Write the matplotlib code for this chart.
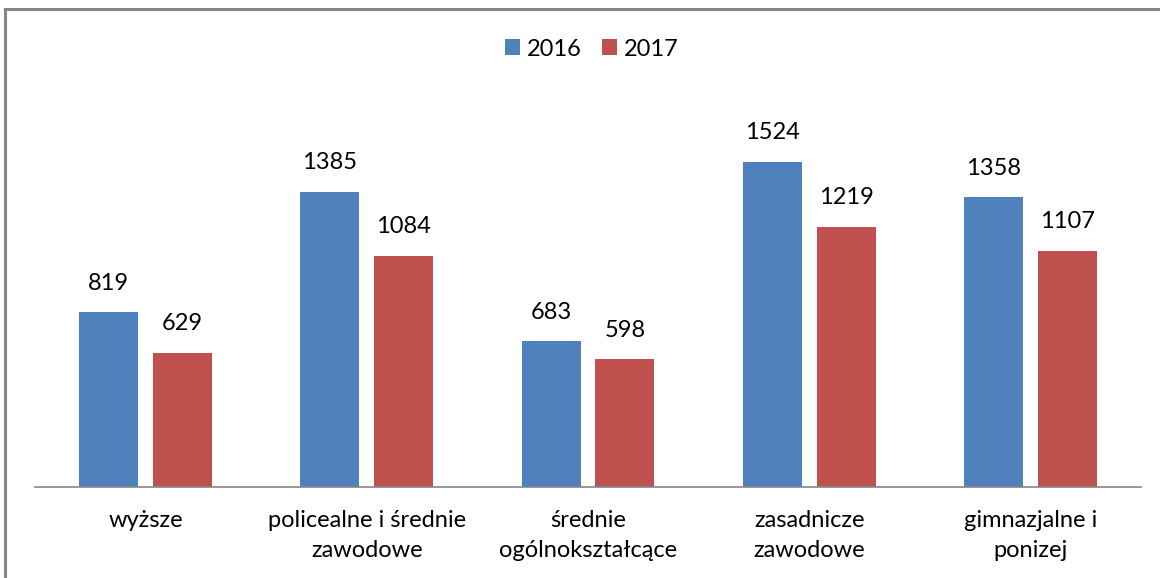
import matplotlib
matplotlib.use("Agg")
import matplotlib.pyplot as plt
import numpy as np
from matplotlib.lines import Line2D

categories = ["wyższe", "policealne i średnie\nzawodowe", "średnie\nogólnokształcące",
              "zasadnicze\nzawodowe", "gimnazjalne i\nponizej"]
values_2016 = [819, 1385, 683, 1524, 1358]
values_2017 = [629, 1084, 598, 1219, 1107]
series_labels = ["2016", "2017"]

BLUE = "#4F81BD"
RED = "#C0504D"

plt.rcParams["font.family"] = ["Lato", "DejaVu Sans"]

W, H = 1160, 578
fig = plt.figure(figsize=(W / 100, H / 100), dpi=100)

# plot area in pixel coords: x 35..1141, baseline y=487
left, right = 35, 1141
bottom_px, top_px = 487, 103
ax = fig.add_axes([left / W, 1 - bottom_px / H, (right - left) / W, (bottom_px - top_px) / H])

x = np.arange(len(categories))
width = 0.267
offset = 0.167
b1 = ax.bar(x - offset, values_2016, width, color=BLUE, label=series_labels[0])
b2 = ax.bar(x + offset, values_2017, width, color=RED, label=series_labels[1])

ax.set_xlim(-0.5, len(categories) - 0.5)
ax.set_ylim(0, 1800)

for bars in (b1, b2):
    for rect in bars:
        ax.annotate(f"{int(rect.get_height())}",
                    (rect.get_x() + rect.get_width() / 2, rect.get_height()),
                    xytext=(0, 21), textcoords="offset points",
                    ha="center", va="center", fontsize=17, color="#000000")

for s in ["top", "right", "left"]:
    ax.spines[s].set_visible(False)
ax.spines["bottom"].set_color("#868686")
ax.spines["bottom"].set_linewidth(1.2)
ax.set_yticks([])
ax.set_xticks(x)
ax.set_xticklabels(categories, fontsize=17, linespacing=1.55)
ax.tick_params(axis="x", length=0, pad=16.5)

ax.legend(loc="center", bbox_to_anchor=(0.5 + 12 / W, (H - 49) / H),
          bbox_transform=fig.transFigure, ncol=2, frameon=False, fontsize=17,
          handlelength=0.63, handleheight=0.63, handletextpad=0.3, columnspacing=0.85,
          borderaxespad=0)

# chart area border (top and left visible, rest cut off)
fig.add_artist(Line2D([5 / W, 1.0], [1 - 9 / H, 1 - 9 / H], color="#868686", lw=2.2,
                      transform=fig.transFigure))
fig.add_artist(Line2D([5 / W, 5 / W], [0, 1 - 9 / H], color="#868686", lw=2.2,
                      transform=fig.transFigure))

fig.savefig("out.png", dpi=100)
